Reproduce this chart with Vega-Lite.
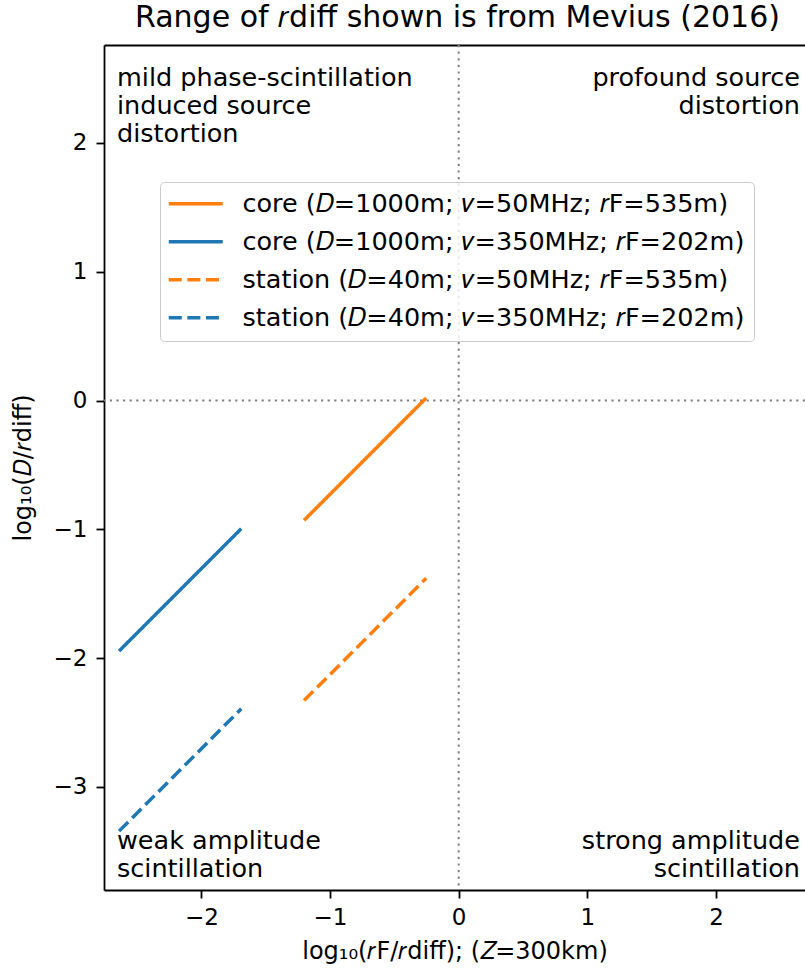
{
  "$schema": "https://vega.github.io/schema/vega-lite/v6.json",
  "width": 701,
  "height": 845,
  "autosize": {"type": "none"},
  "padding": {"left": 104, "top": 45, "right": 0, "bottom": 82},
  "background": "white",
  "title": {
    "text": "Range of 𝑟diff shown is from Mevius (2016)",
    "fontSize": 30,
    "font": "DejaVu Sans",
    "fontWeight": "normal",
    "color": "black",
    "anchor": "middle",
    "offset": 11,
    "dx": 3
  },
  "config": {
    "view": {"stroke": null},
    "font": "DejaVu Sans",
    "axis": {
      "domainColor": "black",
      "domainWidth": 1.8,
      "tickColor": "black",
      "tickWidth": 1.8,
      "tickSize": 8,
      "labelColor": "black",
      "labelFont": "DejaVu Sans",
      "labelFontSize": 23,
      "titleFont": "DejaVu Sans",
      "titleFontSize": 24,
      "titleFontWeight": "normal",
      "titleColor": "black",
      "grid": false
    }
  },
  "datasets": {
    "series": [
      {"series": "core (𝐷=1000m; 𝜈=50MHz; 𝑟F=535m)", "x": -1.202, "y": -0.930},
      {"series": "core (𝐷=1000m; 𝜈=50MHz; 𝑟F=535m)", "x": -0.252, "y": 0.020},
      {"series": "core (𝐷=1000m; 𝜈=350MHz; 𝑟F=202m)", "x": -2.640, "y": -1.945},
      {"series": "core (𝐷=1000m; 𝜈=350MHz; 𝑟F=202m)", "x": -1.690, "y": -0.995},
      {"series": "station (𝐷=40m; 𝜈=50MHz; 𝑟F=535m)", "x": -1.202, "y": -2.329},
      {"series": "station (𝐷=40m; 𝜈=50MHz; 𝑟F=535m)", "x": -0.252, "y": -1.379},
      {"series": "station (𝐷=40m; 𝜈=350MHz; 𝑟F=202m)", "x": -2.640, "y": -3.343},
      {"series": "station (𝐷=40m; 𝜈=350MHz; 𝑟F=202m)", "x": -1.690, "y": -2.393}
    ],
    "leftNotes": [
      {"label": "mild phase-scintillation\ninduced source\ndistortion", "x": -2.656, "y": 2.597},
      {"label": "weak amplitude\nscintillation", "x": -2.656, "y": -3.323}
    ],
    "rightNotes": [
      {"label": "profound source\ndistortion", "x": 2.653, "y": 2.597},
      {"label": "strong amplitude\nscintillation", "x": 2.653, "y": -3.323}
    ],
    "zero": [{"v": 0}]
  },
  "layer": [
    {
      "data": {"name": "zero"},
      "mark": {"type": "rule", "color": "#808080", "strokeWidth": 2, "strokeDash": [2.2, 4.4]},
      "encoding": {
        "x": {
          "field": "v", "type": "quantitative",
          "scale": {"domain": [-2.757, 2.692], "nice": false, "zero": false},
          "axis": {"orient": "top", "labels": false, "ticks": false, "title": null, "domain": true}
        }
      }
    },
    {
      "data": {"name": "zero"},
      "mark": {"type": "rule", "color": "#808080", "strokeWidth": 2, "strokeDash": [2.2, 4.4]},
      "encoding": {
        "y": {
          "field": "v", "type": "quantitative",
          "scale": {"domain": [-3.80, 2.76], "nice": false, "zero": false},
          "axis": null
        }
      }
    },
    {
      "data": {"name": "series"},
      "mark": {"type": "line", "strokeWidth": 3.5, "strokeCap": "butt"},
      "encoding": {
        "x": {
          "field": "x", "type": "quantitative",
          "scale": {"domain": [-2.757, 2.692], "nice": false, "zero": false},
          "axis": {"values": [-2, -1, 0, 1, 2], "title": "log₁₀(𝑟F/𝑟diff); (𝑍=300km)", "labelPadding": 8, "titlePadding": 10}
        },
        "y": {
          "field": "y", "type": "quantitative",
          "scale": {"domain": [-3.80, 2.76], "nice": false, "zero": false},
          "axis": {"values": [-3, -2, -1, 0, 1, 2], "title": "log₁₀(𝐷/𝑟diff)", "labelPadding": 9, "titlePadding": 18}
        },
        "color": {
          "field": "series", "type": "nominal",
          "scale": {
            "domain": ["core (𝐷=1000m; 𝜈=50MHz; 𝑟F=535m)", "core (𝐷=1000m; 𝜈=350MHz; 𝑟F=202m)", "station (𝐷=40m; 𝜈=50MHz; 𝑟F=535m)", "station (𝐷=40m; 𝜈=350MHz; 𝑟F=202m)"],
            "range": ["#ff7f0e", "#1f77b4", "#ff7f0e", "#1f77b4"]
          },
          "legend": {
            "orient": "none", "legendX": 56, "legendY": 137, "title": null,
            "symbolType": "M-2.7,0L2.7,0", "symbolSize": 400, "symbolStrokeWidth": 3.5, "symbolOffset": 14,
            "labelFontSize": 25.5, "labelFont": "DejaVu Sans", "labelLimit": 1000, "labelColor": "black",
            "fillColor": "rgba(255,255,255,0.8)", "strokeColor": "#cccccc", "cornerRadius": 4,
            "padding": 9, "labelOffset": 34, "rowPadding": 11
          }
        },
        "strokeDash": {
          "field": "series", "type": "nominal",
          "scale": {
            "domain": ["core (𝐷=1000m; 𝜈=50MHz; 𝑟F=535m)", "core (𝐷=1000m; 𝜈=350MHz; 𝑟F=202m)", "station (𝐷=40m; 𝜈=50MHz; 𝑟F=535m)", "station (𝐷=40m; 𝜈=350MHz; 𝑟F=202m)"],
            "range": [[1, 0], [1, 0], [13, 5.6], [13, 5.6]]
          }
        }
      }
    },
    {
      "data": {"name": "leftNotes"},
      "mark": {"type": "text", "align": "left", "baseline": "top", "fontSize": 25.5, "lineHeight": 28, "lineBreak": "\n", "color": "black"},
      "encoding": {
        "x": {"field": "x", "type": "quantitative", "axis": null},
        "y": {"field": "y", "type": "quantitative", "axis": null},
        "text": {"field": "label"}
      }
    },
    {
      "data": {"name": "rightNotes"},
      "mark": {"type": "text", "align": "right", "baseline": "top", "fontSize": 25.5, "lineHeight": 28, "lineBreak": "\n", "color": "black"},
      "encoding": {
        "x": {"field": "x", "type": "quantitative", "axis": null},
        "y": {"field": "y", "type": "quantitative", "axis": null},
        "text": {"field": "label"}
      }
    }
  ],
  "resolve": {"axis": {"x": "independent", "y": "independent"}}
}
